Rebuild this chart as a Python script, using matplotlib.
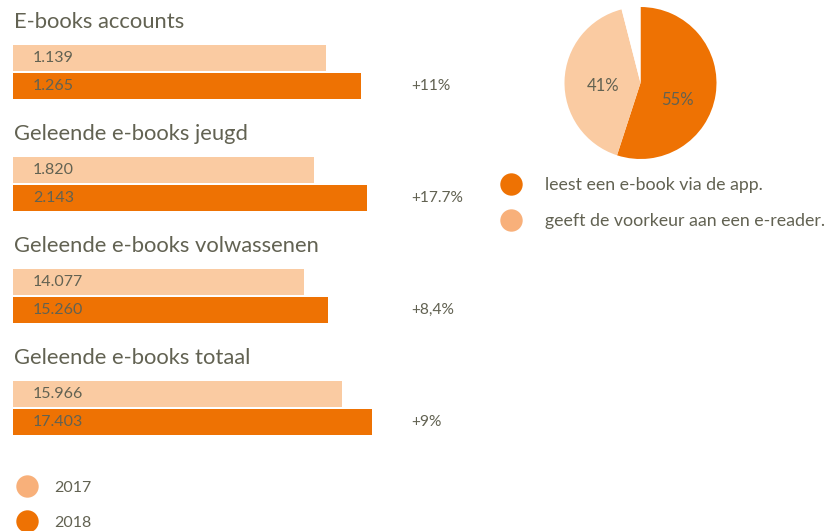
import matplotlib
matplotlib.use("Agg")
import matplotlib.pyplot as plt

# ---- data ----
group_titles = ["E-books accounts", "Geleende e-books jeugd",
                "Geleende e-books volwassenen", "Geleende e-books totaal"]
values_2017 = [1139, 1820, 14077, 15966]
values_2018 = [1265, 2143, 15260, 17403]
value_labels_2017 = ["1.139", "1.820", "14.077", "15.966"]
value_labels_2018 = ["1.265", "2.143", "15.260", "17.403"]
growth_labels = ["+11%", "+17.7%", "+8,4%", "+9%"]
years = ["2017", "2018"]

pie_values = [55, 41, 4]
pie_labels = ["55%", "41%", ""]
pie_legend = ["leest een e-book via de app.", "geeft de voorkeur aan een e-reader."]

# ---- styles ----
DARK = "#EE7203"
LIGHT = "#FACBA2"
LIGHT_DOT = "#F8B07A"
TXT = "#626252"
FONT = "Lato"
plt.rcParams["font.family"] = [FONT, "DejaVu Sans"]

W, H = 834, 531
fig = plt.figure(figsize=(W / 100, H / 100), dpi=100)


def fx(px):
    return px / W


def fy(py):
    return 1 - py / H


# per-group pixel length for the longest bar (each group has its own scale)
bar_px_len = [348, 354, 315, 359]
bar_x0 = 13
ax_w_px = 420
group_step = 112

for g in range(4):
    top = 44 + group_step * g
    ax = fig.add_axes([fx(bar_x0), fy(top + 56), fx(ax_w_px), 56 / H])
    vmax = max(values_2017[g], values_2018[g])
    ax.set_xlim(0, vmax * ax_w_px / bar_px_len[g])
    ax.set_ylim(1.5, -0.5)
    ax.barh([0, 1], [values_2017[g], values_2018[g]], height=0.93,
            color=[LIGHT, DARK], linewidth=0)
    ax.axis("off")
    for i, lab in enumerate([value_labels_2017[g], value_labels_2018[g]]):
        ax.annotate(lab, xy=(0, i), xytext=(14.5, 0), textcoords="offset points",
                    va="center", ha="left", fontsize=11.5, color=TXT)
    fig.text(fx(14), fy(28 + group_step * g), group_titles[g], fontsize=15.8,
             color=TXT, va="baseline", ha="left")
    fig.text(fx(411), fy(86 + group_step * g), growth_labels[g], fontsize=11.2,
             color=TXT, va="center", ha="left")

# ---- pie ----
cx, cy, r = 640.5, 83, 76
pax = fig.add_axes([fx(cx - r), fy(cy + r), fx(2 * r), 2 * r / H])
wedges, texts = pax.pie(pie_values, colors=[DARK, LIGHT, "white"], startangle=90,
                        counterclock=False, radius=1,
                        wedgeprops=dict(linewidth=0))
pax.set_xlim(-1, 1)
pax.set_ylim(-1, 1)
pax.set_aspect("equal")
pax.axis("off")
label_pos = [(0.49, -0.22), (-0.49, -0.04)]
for (x, y), lab in zip(label_pos, pie_labels[:2]):
    pax.text(x, y, lab, ha="center", va="center", fontsize=12, color=TXT)

# ---- legends (overlay in pixel coordinates) ----
ov = fig.add_axes([0, 0, 1, 1], zorder=-1)
ov.set_xlim(0, W)
ov.set_ylim(H, 0)
ov.axis("off")
for i, (lab, c) in enumerate(zip(pie_legend, [DARK, LIGHT_DOT])):
    ov.scatter([511], [184 + 36 * i], s=260, color=c, linewidths=0)
    ov.text(545, 185 + 36 * i, lab, fontsize=12.8, color=TXT, va="center", ha="left")
for i, (lab, c) in enumerate(zip(years, [LIGHT_DOT, DARK])):
    ov.scatter([27], [486 + 35 * i], s=260, color=c, linewidths=0)
    ov.text(54, 488 + 35 * i, lab, fontsize=11.5, color=TXT, va="center", ha="left")

fig.savefig("out.png", dpi=100)
